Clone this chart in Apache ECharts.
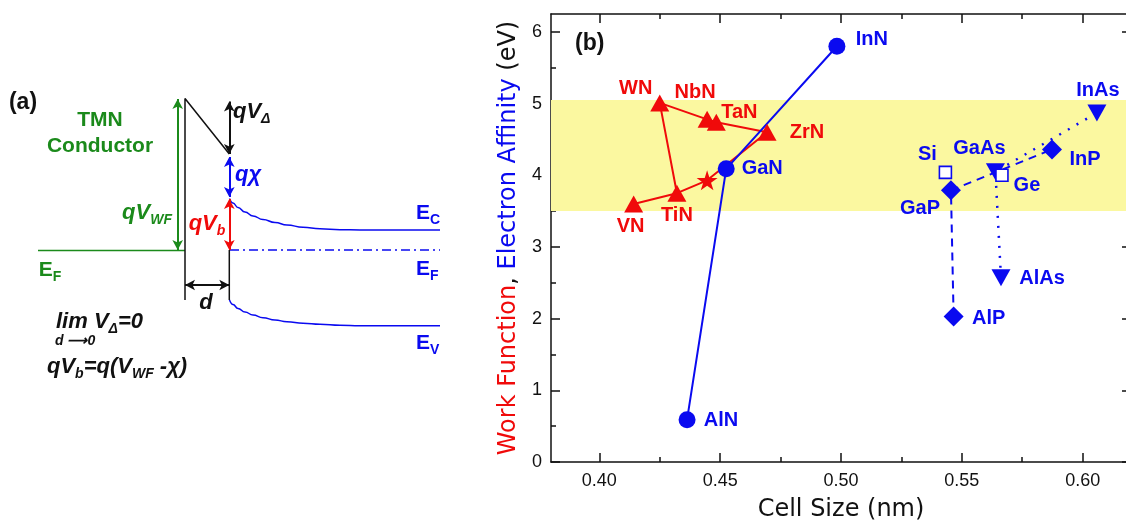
<!DOCTYPE html>
<html>
<head>
<meta charset="utf-8">
<script src="https://cdn.jsdelivr.net/npm/echarts@6/dist/echarts.min.js"></script>
<style>
  html, body { margin: 0; padding: 0; background: #fff; }
  #main { width: 1126px; height: 528px; }
</style>
</head>
<body>
<div id="main"></div>
<script>
// ---------- (b) cell size (nm) versus work function / electron affinity (eV) ----------
const tmnNames = ['WN', 'NbN', 'TaN', 'ZrN', 'TiN', 'VN'];
const tmnCell  = [0.425, 0.4446, 0.4484, 0.4694, 0.4321, 0.4142];
const tmnWF    = [5.01, 4.78, 4.74, 4.60, 3.75, 3.60];
// order in which the nitride conductors are joined ('star' = the starred point)
const tmnPath  = ['VN', 'TiN', 'star', 'ZrN', 'TaN', 'NbN', 'WN', 'TiN'];
const starCell = [0.4446];
const starWF   = [3.93];

const nitrideNames = ['AlN', 'GaN', 'InN'];
const nitrideCell  = [0.4363, 0.4525, 0.4983];
const nitrideChi   = [0.59, 4.09, 5.80];

const phosphideNames = ['AlP', 'GaP', 'InP'];
const phosphideCell  = [0.5466, 0.5455, 0.5873];
const phosphideChi   = [2.03, 3.79, 4.36];

const arsenideNames = ['AlAs', 'GaAs', 'InAs'];
const arsenideCell  = [0.5662, 0.5639, 0.6059];
const arsenideChi   = [2.57, 4.05, 4.87];

const groupIVNames = ['Si', 'Ge'];
const groupIVCell  = [0.5432, 0.5666];
const groupIVChi   = [4.04, 4.00];

const bandRange = [3.5, 5.05];

const xMajorTicks = [0.40, 0.45, 0.50, 0.55, 0.60];
const xMinorTicks = [0.425, 0.475, 0.525, 0.575];
const yMajorTicks = [0, 1, 2, 3, 4, 5, 6];
const yMinorTicks = [0.5, 1.5, 2.5, 3.5, 4.5, 5.5];

// ---------- (a) band diagram, drawn in diagram units ----------
const metalFermi    = [[38, 250.5], [185, 250.5]];
const barrierEdge   = [[185, 300], [185, 98.5], [229.3, 154]];
const interfaceLine = [[229.3, 250], [229.3, 300]];
const condBand = [[229.5, 198.5], [233, 203], [238, 207.5], [245, 212], [253, 216], [263, 219.5], [275, 222.5],
                  [287, 225], [303, 227.3], [320, 228.8], [340, 229.7], [360, 230], [440, 230]];
const valBand  = [[229.5, 300], [233, 304.5], [238, 308.5], [245, 312], [253, 315], [263, 317.7], [275, 320],
                  [287, 321.7], [303, 323.3], [320, 324.3], [340, 325.3], [360, 325.8], [440, 325.8]];
const semiFermi = [[230, 250], [440, 250]];

const F = '"Liberation Sans", Arial, Helvetica, sans-serif';
const FT = '"DejaVu Sans", Verdana, sans-serif';
const RED = '#f00a0a', BLUE = '#0a0af0', GREEN = '#1b8a1b', BLACK = '#111111';

const arrows = [
  { from: [177.7, 99], to: [177.7, 250], color: GREEN },
  { from: [229.3, 101.5], to: [229.3, 154], color: BLACK },
  { from: [229.3, 157], to: [229.3, 197], color: BLUE },
  { from: [229.3, 199], to: [229.3, 250], color: RED },
  { from: [185, 285], to: [229.3, 285], color: BLACK }
];

const schemeRich = (color) => ({
  m: { fontSize: 22, fontWeight: 'bold', fontStyle: 'italic', fontFamily: F, color, lineHeight: 26 },
  s: { fontSize: 14, fontWeight: 'bold', fontStyle: 'italic', fontFamily: F, color, lineHeight: 14, padding: [14, 0, 0, 0] },
  e: { fontSize: 21, fontWeight: 'bold', fontFamily: F, color, lineHeight: 26 },
  es: { fontSize: 14, fontWeight: 'bold', fontFamily: F, color, lineHeight: 14, padding: [14, 0, 0, 0] },
  t: { fontSize: 14, fontWeight: 'bold', fontStyle: 'italic', fontFamily: F, color, lineHeight: 16 }
});

const schemeTexts = [
  { at: [23, 103], text: '{p|(a)}', color: BLACK, align: 'center',
    extra: { p: { fontSize: 23, fontWeight: 'bold', fontFamily: F, color: BLACK } } },
  { at: [100, 133], text: '{c|TMN}\n{c|Conductor}', color: GREEN, align: 'center',
    extra: { c: { fontSize: 21, fontWeight: 'bold', fontFamily: F, color: GREEN, lineHeight: 26, align: 'center' } } },
  { at: [147, 213], text: '{m|qV}{s|WF}', color: GREEN, align: 'center' },
  { at: [50, 270], text: '{e|E}{es|F}', color: GREEN, align: 'center' },
  { at: [233, 112], text: '{m|qV}{s|Δ}', color: BLACK, align: 'left' },
  { at: [235, 175], text: '{m|qχ}', color: BLUE, align: 'left' },
  { at: [207, 224], text: '{m|qV}{s|b}', color: RED, align: 'center' },
  { at: [206, 303], text: '{m|d}', color: BLACK, align: 'center' },
  { at: [416, 213], text: '{e|E}{es|C}', color: BLUE, align: 'left' },
  { at: [416, 269], text: '{e|E}{es|F}', color: BLUE, align: 'left' },
  { at: [416, 343], text: '{e|E}{es|V}', color: BLUE, align: 'left' },
  { at: [56, 322], text: '{m|lim V}{s|Δ}{m|=0}', color: BLACK, align: 'left' },
  { at: [55, 341], text: '{t|d ⟶0}', color: BLACK, align: 'left' },
  { at: [47, 367], text: '{m|qV}{s|b}{m|=q(V}{s|WF}{m| -χ)}', color: BLACK, align: 'left' }
];

// label placement around each marker (pixels)
const labelOffset = {
  WN: [-24, -14], NbN: [-12, -27], TaN: [23, -10], ZrN: [40, 0], TiN: [0, 22], VN: [-3, 23],
  AlN: [34, 1], GaN: [36, 0], InN: [35, -7],
  AlP: [35, 2], GaP: [-31, 18], InP: [33, 10],
  AlAs: [41, 1], GaAs: [-16, -23], InAs: [1, -22],
  Si: [-18, -18], Ge: [25, 10]
};

const STAR = 'path://M50,0 L61,35 L98,35 L68,57 L79,91 L50,70 L21,91 L32,57 L2,35 L39,35 Z';

function pointSeries(names, xs, ys, color, symbol, size, extra) {
  return Object.assign({
    type: 'scatter', xAxisIndex: 1, yAxisIndex: 1, z: 5, silent: true,
    symbol, symbolSize: size, itemStyle: { color, opacity: 1 },
    data: names.map((n, i) => ({
      name: n, value: [xs[i], ys[i]],
      label: {
        show: true, position: 'inside', offset: labelOffset[n], formatter: n,
        color, fontFamily: F, fontWeight: 'bold', fontSize: 20,
        textBorderWidth: 0, align: 'center', verticalAlign: 'middle'
      }
    }))
  }, extra || {});
}

function pathSeries(data, color, type, width) {
  return {
    type: 'line', xAxisIndex: 1, yAxisIndex: 1, z: 3, silent: true,
    symbol: 'none', data, lineStyle: { color, width: width || 2, type }
  };
}

function schemeLine(data, color, width, type, smooth) {
  return {
    type: 'line', xAxisIndex: 0, yAxisIndex: 0, silent: true, symbol: 'none',
    smooth: !!smooth, smoothMonotone: 'x', data,
    lineStyle: { color, width, type: type || 'solid' }
  };
}

const tmnPathData = tmnPath.map(n => {
  if (n === 'star') return [starCell[0], starWF[0]];
  const i = tmnNames.indexOf(n);
  return [tmnCell[i], tmnWF[i]];
});
const zip = (xs, ys) => xs.map((x, i) => [x, ys[i]]);

const chart = echarts.init(document.getElementById('main'));

const frameX = (extra) => Object.assign({
  gridIndex: 1, type: 'value', min: 0.38, max: 0.62,
  axisLine: { show: false, onZero: false, lineStyle: { color: BLACK, width: 1.5 } },
  axisTick: { show: true, inside: true, length: 9, customValues: xMajorTicks, lineStyle: { color: BLACK, width: 1.5 } },
  axisLabel: { show: false }, splitLine: { show: false }
}, extra);
const frameY = (extra) => Object.assign({
  gridIndex: 1, type: 'value', min: 0, max: 6.25,
  axisLine: { show: false, onZero: false, lineStyle: { color: BLACK, width: 1.5 } },
  axisTick: { show: true, inside: true, length: 9, customValues: yMajorTicks, lineStyle: { color: BLACK, width: 1.5 } },
  axisLabel: { show: false }, splitLine: { show: false }
}, extra);
const minorTick = (vals) => ({ show: true, inside: true, length: 5, customValues: vals, lineStyle: { color: BLACK, width: 1.5 } });

chart.setOption({
  animation: false,
  backgroundColor: '#ffffff',
  textStyle: { fontFamily: F },
  grid: [
    { left: 0, top: 0, width: 440, height: 528, outerBoundsMode: 'none', containLabel: false },
    { left: 551, top: 14, width: 580, height: 448, outerBoundsMode: 'none', containLabel: false }
  ],
  xAxis: [
    { gridIndex: 0, type: 'value', min: 0, max: 440, show: false },
    frameX({
      position: 'bottom',
      axisLine: { show: true, onZero: false, lineStyle: { color: BLACK, width: 1.5 } },
      axisLabel: { show: true, customValues: xMajorTicks, formatter: v => v.toFixed(2),
                   margin: 10, fontSize: 18, color: BLACK, fontFamily: F },
      name: 'Cell Size (nm)', nameLocation: 'middle', nameGap: 36,
      nameTextStyle: { fontSize: 24, color: BLACK, fontFamily: FT }
    }),
    frameX({ position: 'bottom', axisTick: minorTick(xMinorTicks) }),
    frameX({ position: 'top', axisLine: { show: true, onZero: false, lineStyle: { color: BLACK, width: 1.5 } } }),
    frameX({ position: 'top', axisTick: minorTick(xMinorTicks) })
  ],
  yAxis: [
    { gridIndex: 0, type: 'value', min: 0, max: 528, inverse: true, show: false },
    frameY({
      position: 'left',
      axisLine: { show: true, onZero: false, lineStyle: { color: BLACK, width: 1.5 } },
      axisLabel: { show: true, customValues: yMajorTicks, formatter: v => String(v),
                   margin: 9, fontSize: 18, color: BLACK, fontFamily: F },
      name: '{r|Work Function}{k|, }{b|Electron Affinity}{k| (eV)}',
      nameLocation: 'middle', nameGap: 28,
      nameTextStyle: {
        fontSize: 24, fontFamily: FT,
        rich: {
          r: { fontSize: 24, fontFamily: FT, color: RED },
          k: { fontSize: 24, fontFamily: FT, color: BLACK },
          b: { fontSize: 24, fontFamily: FT, color: BLUE }
        }
      }
    }),
    frameY({ position: 'left', axisTick: minorTick(yMinorTicks) }),
    frameY({ position: 'right', axisLine: { show: true, onZero: false, lineStyle: { color: BLACK, width: 1.5 } } }),
    frameY({ position: 'right', axisTick: minorTick(yMinorTicks) })
  ],
  graphic: [
    { type: 'text', left: 575, top: 32,
      style: { text: '(b)', fontSize: 23, fontWeight: 'bold', fontFamily: F, fill: BLACK } }
  ],
  series: [
    // ----- (a) band diagram -----
    schemeLine(metalFermi, GREEN, 1.5),
    schemeLine(barrierEdge, BLACK, 1.5),
    schemeLine(interfaceLine, BLACK, 1.5),
    schemeLine(condBand, BLUE, 1.5, 'solid', true),
    schemeLine(valBand, BLUE, 1.5, 'solid', true),
    schemeLine(semiFermi, BLUE, 1.5, [9, 4, 2, 4]),
    {
      type: 'line', xAxisIndex: 0, yAxisIndex: 0, data: [], silent: true,
      markLine: {
        silent: true, animation: false, symbol: ['arrow', 'arrow'], symbolSize: [8, 10],
        label: { show: false }, emphasis: { disabled: true },
        data: arrows.map(a => [
          { coord: a.from, lineStyle: { color: a.color, width: 2, type: 'solid', opacity: 1 }, itemStyle: { color: a.color } },
          { coord: a.to }
        ])
      }
    },
    {
      type: 'scatter', xAxisIndex: 0, yAxisIndex: 0, silent: true, symbolSize: 0,
      itemStyle: { color: 'transparent', opacity: 1 },
      data: schemeTexts.map(t => ({
        value: t.at,
        label: {
          show: true, position: 'inside', formatter: t.text, align: t.align, verticalAlign: 'middle',
          textBorderWidth: 0, rich: Object.assign(schemeRich(t.color), t.extra || {})
        }
      }))
    },
    // ----- (b) yellow band -----
    {
      type: 'line', xAxisIndex: 1, yAxisIndex: 1, data: [], z: 1, silent: true,
      markArea: {
        silent: true, itemStyle: { color: '#fbf8a0', opacity: 1 },
        data: [[{ yAxis: bandRange[0] }, { yAxis: bandRange[1] }]]
      }
    },
    // connecting lines
    pathSeries(tmnPathData, RED, 'solid'),
    pathSeries(zip(nitrideCell, nitrideChi), BLUE, 'solid'),
    pathSeries(zip(phosphideCell, phosphideChi), BLUE, [8, 6]),
    pathSeries(zip(arsenideCell, arsenideChi), BLUE, [2, 8], 2.5),
    // markers
    pointSeries(tmnNames, tmnCell, tmnWF, RED, 'triangle', [19, 17]),
    {
      type: 'scatter', xAxisIndex: 1, yAxisIndex: 1, z: 5, silent: true,
      symbol: STAR, symbolSize: [21, 20], itemStyle: { color: RED, opacity: 1 },
      data: zip(starCell, starWF)
    },
    pointSeries(nitrideNames, nitrideCell, nitrideChi, BLUE, 'circle', 17),
    pointSeries(phosphideNames, phosphideCell, phosphideChi, BLUE, 'diamond', [20, 20]),
    pointSeries(arsenideNames, arsenideCell, arsenideChi, BLUE, 'triangle', [19, 17], { symbolRotate: 180 }),
    pointSeries(groupIVNames, groupIVCell, groupIVChi, BLUE, 'rect', 12,
      { itemStyle: { color: '#ffffff', borderColor: BLUE, borderWidth: 1.6, opacity: 1 } })
  ]
});
</script>
</body>
</html>
